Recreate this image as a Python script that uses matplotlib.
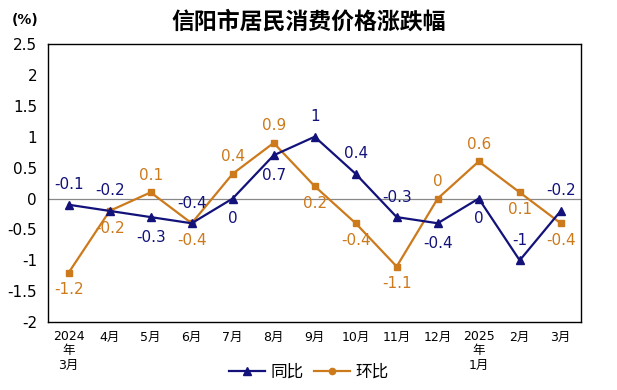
import matplotlib
matplotlib.use('Agg')
import matplotlib.pyplot as plt
from matplotlib.lines import Line2D

plt.rcParams['font.family'] = ['DejaVu Sans', 'Noto Sans CJK SC']

months = ['2024\n年\n3月', '4月', '5月', '6月', '7月', '8月', '9月', '10月',
          '11月', '12月', '2025\n年\n1月', '2月', '3月']
yoy = [-0.1, -0.2, -0.3, -0.4, 0, 0.7, 1, 0.4, -0.3, -0.4, 0, -1, -0.2]
mom = [-1.2, -0.2, 0.1, -0.4, 0.4, 0.9, 0.2, -0.4, -1.1, 0, 0.6, 0.1, -0.4]
# label placement: 1 = above, -1 = below
yoy_pos = [1, 1, -1, 1, -1, -1, 1, 1, 1, -1, -1, 1, 1]
mom_pos = [-1, -1, 1, -1, 1, 1, -1, -1, -1, 1, 1, -1, -1]

navy = '#12127a'
orange = '#cc7a1c'

fig = plt.figure(figsize=(6.17, 3.9), dpi=100)
ax = fig.add_axes([0.078, 0.174, 0.864, 0.713])

x = list(range(len(months)))
ax.axhline(0, color='#888888', lw=0.9, zorder=1)
ax.plot(x, mom, color=orange, lw=1.6, marker='s', ms=4.5, zorder=2)
ax.plot(x, yoy, color=navy, lw=1.6, marker='^', ms=6, zorder=3)

def fmt(v):
    return ('%g' % v)

for xi, v, p in zip(x, yoy, yoy_pos):
    ax.annotate(fmt(v), (xi, v), xytext=(0, 9 * p), textcoords='offset points',
                ha='center', va='bottom' if p > 0 else 'top', color=navy, fontsize=11)
for xi, v, p in zip(x, mom, mom_pos):
    ax.annotate(fmt(v), (xi, v), xytext=(0, 7 * p), textcoords='offset points',
                ha='center', va='bottom' if p > 0 else 'top', color=orange, fontsize=11)

ax.set_xlim(-0.5, 12.5)
ax.set_ylim(-2, 2.5)
ax.set_yticks([-2, -1.5, -1, -0.5, 0, 0.5, 1, 1.5, 2, 2.5])
ax.set_yticklabels(['-2', '-1.5', '-1', '-0.5', '0', '0.5', '1', '1.5', '2', '2.5'], fontsize=11)
ax.set_xticks(x)
ax.set_xticklabels(months, fontsize=9, linespacing=1.1, va='top')
ax.tick_params(axis='both', length=0)
ax.tick_params(axis='x', pad=6)
ax.tick_params(axis='y', pad=8)
for s in ax.spines.values():
    s.set_linewidth(1.0)

fig.text(0.5, 0.943, '信阳市居民消费价格涨跌幅', ha='center', va='center',
         fontsize=16.5, fontweight='bold', family=['Noto Sans CJK SC'])
fig.text(0.04, 0.95, '(%)', ha='center', va='center', fontsize=10, fontweight='bold')

handles = [Line2D([], [], color=navy, lw=1.6, marker='^', ms=6),
           Line2D([], [], color=orange, lw=1.6, marker='o', ms=4.5)]
fig.legend(handles, ['同比', '环比'], loc='center', bbox_to_anchor=(0.5, 0.045),
           ncol=2, frameon=False, handlelength=2.2, handletextpad=0.3,
           columnspacing=0.6, prop={'family': ['Noto Sans CJK SC'], 'size': 12})

fig.savefig('out.png', dpi=100)
